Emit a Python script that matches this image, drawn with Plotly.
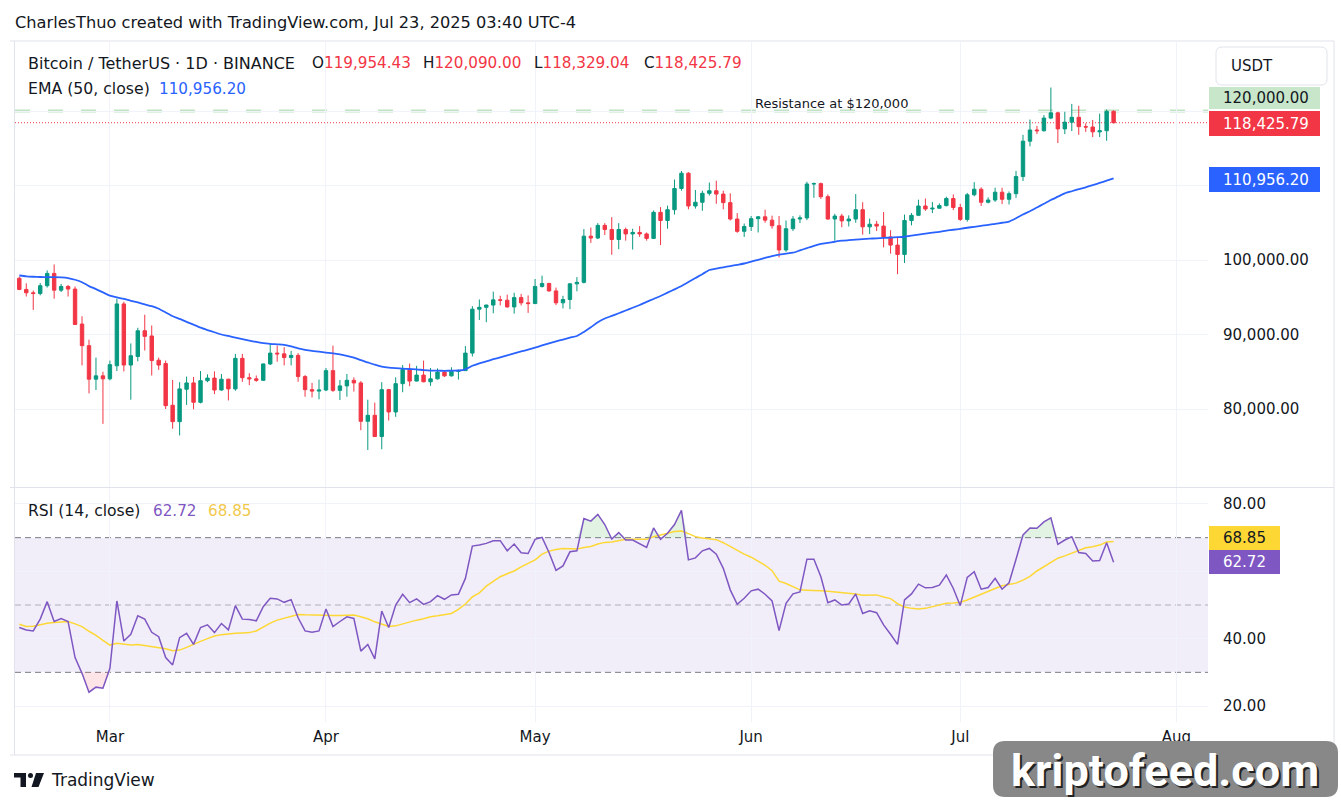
import plotly.graph_objects as go
import pandas as pd

W, H = 1341, 807
FONT = "DejaVu Sans"
TXT = "#131722"
GREEN = "#089981"
RED = "#F23645"

# ---------------- data ----------------
dates = pd.date_range("2025-02-16", periods=158, freq="D")

opens = [97550, 96050, 95600, 95500, 96550, 98200, 95950, 96450, 96100, 91400, 88500, 84000, 84450,
         84050, 85800, 94100, 85900, 87050, 90500, 89800, 86550, 86100, 80500, 78300, 82650, 83500, 80900,
         83800, 84150, 82550, 84000, 82700, 86800, 84200, 84050, 83850, 86050, 87500, 87400, 86900, 87200,
         84350, 82600, 82400,
         82550, 85150, 82500, 83100, 83850, 83500, 78350, 79150, 76300, 82600, 79600, 83400, 85300, 83750,
         84550, 83650, 84050, 84950, 84450, 85050, 85150, 87500, 93400, 93650, 93950, 94650, 94600, 93700,
         94950, 94250,
         94150, 96450, 96850, 95850, 94250, 94700, 96800, 97000, 103200, 102950, 104650, 104100, 102750,
         104100, 103500, 103700, 103500, 102900, 106400, 105300, 106750, 109600, 111650, 107250, 107750,
         108950, 109300, 108850, 107700, 105500, 103850,
         104500, 105550, 105800, 105350, 104600, 101350, 104200, 105500, 105650, 110200, 110250, 108500,
         105500, 105900, 105250, 105500, 106750, 104450, 104800, 104550, 103100, 102000, 100750, 105300,
         106000, 107250, 106850, 106950, 107300, 108250,
         107050, 105450, 108750, 109500, 107750, 108050, 109100, 108150, 108900, 111200, 115950, 117450,
         117350, 119050, 119750, 117600, 118500, 119150, 117900, 117850, 117200, 117350, 119954.43]
highs = [97750, 96870, 95900, 96900, 98600, 99400, 96800, 96650, 96450, 92450, 89300, 86900, 85000,
         86500, 94800, 94400, 88800, 90900, 92650, 91200, 86900, 86500, 83900, 83600, 84350, 84300, 85100,
         84650, 85050, 84700, 84050, 87400, 87400, 84800, 84500, 86100, 88750, 88500, 88300, 87800, 87500,
         84550, 83500, 83950,
         85500, 88500, 83900, 84700, 84250, 83750, 81250, 80850, 83600, 82700, 84250, 85900, 86100, 85800,
         86500, 85500, 85450, 85150, 85600, 85300, 88450, 93800, 94700, 94000, 95750, 95200, 95350, 95600,
         95450, 95250,
         97450, 97900, 96950, 96300, 95200, 96900, 97700, 104150, 104350, 104950, 104950, 105750, 104950,
         104350, 104200, 104550, 103700, 106650, 107100, 107300, 110800, 111950, 111800, 109400, 109300,
         110400, 110650, 109300, 108950, 106300, 104900,
         105900, 105900, 106750, 105950, 105900, 105300, 105900, 106000, 110500, 110400, 110400, 108800,
         106200, 106200, 106000, 108850, 107750, 105550, 105250, 106450, 104000, 103000, 106100, 106300,
         108100, 108250, 107800, 107600, 108500, 108800,
         107550, 109000, 110450, 109750, 108400, 109700, 109700, 109200, 111950, 116800, 118850, 118000,
         119450, 123150, 119900, 119900, 120950, 120700, 118350, 118800, 119650, 120200, 120090.00]
lows = [95950, 95100, 93300, 95250, 96300, 94800, 95700, 95100, 91300, 85850, 82100, 82550, 78000,
        83850, 85100, 85050, 81250, 86400, 87850, 84500, 85250, 80000, 77350, 76450, 80550, 79950, 80750,
        83600, 82000, 82450, 81150, 82450, 83650, 83200, 83650, 83800, 85900, 86350, 85850, 85850, 83650,
        81650, 81550, 81300,
        82400, 82300, 81200, 81650, 82350, 77150, 74500, 76250, 74600, 78450, 78950, 82250, 83050, 83700,
        83600, 83100, 83950, 84300, 84350, 83950, 85150, 87050, 91950, 91650, 92850, 93900, 93600, 92800,
        93900, 92900,
        94100, 96300, 95750, 93950, 93500, 93400, 95800, 96850, 102300, 102800, 103350, 100700, 101450,
        102600, 101400, 103100, 102600, 102850, 102000, 104200, 106100, 109300, 106800, 106900, 106600,
        108650, 107550, 106800, 105300, 103650, 103100,
        103900, 103700, 105000, 104200, 100350, 101100, 103900, 104950, 105350, 108350, 108200, 105400,
        102600, 104400, 104500, 105000, 103400, 103500, 103900, 101700, 100850, 98100, 99600, 104650,
        105950, 106600, 106300, 106900, 107200, 106700,
        105250, 105150, 108550, 107250, 107600, 107800, 107500, 107450, 108350, 110600, 115250, 116900,
        117250, 118900, 115700, 116900, 117300, 116800, 117200, 116500, 116500, 116000, 118329.04]
closes = [96050, 95600, 95500, 96550, 98200, 95950, 96450, 96100, 91350, 88500, 84000, 84450, 84050,
          85950, 94100, 85900, 87150, 90500, 89750, 86500, 85900, 80450, 78300, 82700, 83500, 80900, 83800,
          84150, 82550, 84000, 82700, 86800, 84200, 84050, 83850, 86050, 87500, 87400, 86900, 87200, 84350,
          82600, 82400, 82550,
          85150, 82500, 83100, 83850, 83500, 78350, 79150, 76300, 82600, 79600, 83400, 85300, 83750, 84550,
          83650, 84050, 84950, 84450, 85050, 85150, 87500, 93400, 93650, 93950, 94650, 94600, 93700, 94950,
          94250, 94150,
          96450, 96850, 95850, 94250, 94700, 96800, 97000, 103200, 102950, 104650, 104100, 102750, 104100,
          103500, 103700, 103500, 102900, 106400, 105300, 106750, 109600, 111650, 107250, 107750, 108950,
          109300, 108850, 107700, 105500, 103850, 104500,
          105550, 105800, 105350, 104600, 101350, 104200, 105500, 105650, 110200, 110250, 108500, 105500,
          105900, 105250, 105500, 106750, 104450, 104800, 104550, 103100, 102000, 100750, 105300, 106000,
          107250, 106850, 106950, 107300, 108250, 107050,
          105450, 108750, 109500, 107750, 108050, 109100, 108150, 108900, 111200, 115950, 117450, 117350,
          119050, 119750, 117600, 118500, 119150, 117900, 117850, 117200, 117350, 119954.43, 118425.79]

ema50 = [97920, 97800, 97750, 97720, 97700, 97690, 97660, 97580, 97350, 97020, 96500, 96100, 95650,
         95210, 94980, 94780, 94520, 94300, 94050, 93800, 93450, 92950, 92450, 92100, 91700, 91330, 90920,
         90600, 90300, 90000, 89800, 89590, 89380, 89180, 89000, 88850, 88750, 88680, 88600, 88400, 88150,
         87950, 87800, 87700, 87580, 87470, 87320, 87120, 86900, 86550, 86250, 85950, 85700, 85560, 85480,
         85420, 85370, 85330, 85220, 85150, 85140, 85130, 85140, 85170, 85330, 85800, 86130, 86400, 86680,
         86940, 87200, 87460, 87720, 87970, 88240, 88530, 88800, 89070, 89320, 89570, 89800, 90350, 90970,
         91650, 92150, 92500, 92850, 93220, 93590, 93960, 94370, 94770, 95170, 95620, 96060, 96510, 97050,
         97580, 98100, 98660, 98850, 99020, 99190, 99360, 99530, 99780, 100030, 100280, 100530, 100720,
         100850, 100980, 101290, 101600, 101900, 102150, 102300, 102450, 102590, 102660, 102730, 102800,
         102860, 102910, 102960, 103010, 103060, 103120, 103260, 103400, 103540, 103660, 103780, 103930,
         104060, 104190, 104330, 104460, 104590, 104710, 104860, 105000, 105160, 105600, 106100, 106550,
         107050, 107550, 108050, 108500, 108950, 109230, 109500, 109760, 110050, 110340, 110640, 110956.20]

rsi = [43.3, 42.6, 42.3, 45.8, 51.0, 45.1, 46.0, 45.1, 34.4, 29.7, 24.1, 25.6, 25.3, 31.2, 51.2, 39.3,
       41.3, 46.8, 45.8, 41.9, 40.6, 34.4, 32.2, 40.3, 41.6, 38.3, 43.3, 44.1, 41.8, 44.5, 42.6, 49.8,
       45.8, 45.7, 45.3, 49.5, 52.0, 51.8, 50.8, 51.6, 46.2, 42.3, 41.9, 42.3, 48.8, 43.6, 45.1, 46.5,
       46.0, 36.3, 38.3, 34.0, 48.2, 43.3, 50.0, 53.2, 50.7, 51.8, 50.2, 51.0, 52.8, 51.7, 53.0, 53.2,
       57.9, 67.5, 67.8, 68.3, 69.1, 69.1, 66.1, 68.1, 65.5, 65.3, 69.5, 70.1, 65.6, 60.3, 61.6, 65.8,
       66.1, 75.7, 74.9, 76.9, 73.9, 69.6, 71.5, 69.3, 69.3, 68.3, 67.1, 72.9, 69.5, 71.3, 73.9, 78.1,
       63.4, 64.0, 66.1, 66.8, 65.1, 60.9, 54.5, 50.2, 52.0, 54.2, 54.7, 53.2, 51.2, 42.4, 50.5, 53.3,
       53.9, 63.6, 63.6, 58.4, 50.7, 51.5, 50.0, 50.3, 53.3, 47.5, 48.3, 47.7, 44.1, 41.3, 38.3, 51.5,
       53.3, 56.2, 55.1, 55.2, 55.9, 58.9, 54.9, 49.8, 58.2, 59.9, 54.7, 55.2, 57.9, 54.7, 56.6, 63.6,
       70.8, 72.9, 72.8, 74.7, 75.9, 68.0, 69.3, 70.3, 65.6, 65.3, 63.1, 63.2, 68.5, 62.72]

rsi_ma = [44.3, 43.6, 43.7, 44.2, 44.6, 44.8, 45.0, 45.1, 44.4, 43.6, 42.2, 41.0, 39.5, 38.1, 38.6, 38.3,
          38.1, 38.3, 38.0, 37.6, 37.4, 37.0, 36.4, 36.6, 37.4, 38.4, 39.2, 40.0, 40.8, 41.2, 41.5, 41.6,
          41.7, 41.8, 42.3, 43.5, 44.6, 45.5, 46.0, 46.6, 47.2, 47.1, 47.0, 47.0, 47.0, 46.9, 46.9, 47.0,
          47.0, 46.5, 45.9, 45.0, 44.3, 43.6, 43.8, 44.4, 44.8, 45.5, 45.9, 46.5, 46.8, 47.1, 47.5, 48.7,
          50.3, 52.4, 53.6, 55.6, 57.1, 58.4, 59.3, 60.1, 61.3, 62.3, 63.4, 65.1, 66.0, 66.5, 66.8, 66.7,
          66.6, 67.1, 67.4, 68.1, 68.6, 68.7, 69.1, 69.5, 69.5, 69.5, 69.5, 70.3, 70.9, 71.3, 71.8, 72.0,
          71.2, 70.3, 69.9, 69.7, 69.4, 68.5, 67.3, 66.1, 65.1, 64.2, 63.1, 61.8, 60.2, 57.1, 56.4, 55.4,
          54.5, 54.4, 54.2, 54.2, 54.1, 53.9, 53.8, 53.5, 53.3, 52.9, 52.9, 53.0, 52.4, 51.9, 50.4, 49.4,
          49.0, 48.8, 49.0, 49.5, 49.9, 50.5, 50.6, 50.8, 51.5, 52.4, 53.2, 54.1, 54.9, 55.7, 56.1, 56.5,
          57.4, 58.5, 60.1, 61.4, 62.6, 63.9, 64.6, 65.4, 66.3, 67.0, 67.3, 67.8, 68.7, 68.85]

month_ticks = ["2025-03-01", "2025-04-01", "2025-05-01", "2025-06-01", "2025-07-01", "2025-08-01"]
month_labels = ["Mar", "Apr", "May", "Jun", "Jul", "Aug"]
price_ticks = [80000, 90000, 100000, 110000, 120000]
price_labels = ["80,000.00", "90,000.00", "100,000.00", "", ""]
rsi_ticks = [20, 40, 60, 80]
rsi_labels = ["20.00", "40.00", "", "80.00"]
resistance = 120000
last_close = closes[-1]
ob_level, mid_level, os_level = 70, 50, 30

# ---------------- helpers ----------------
def px(x):
    return x / W


def py(y):
    return 1 - y / H


def ann(x, y, text, size=15, color=TXT, xanchor="left", yanchor="middle", **kw):
    d = dict(xref="paper", yref="paper", x=px(x), y=py(y), text=text, showarrow=False,
             xanchor=xanchor, yanchor=yanchor, font=dict(family=FONT, size=size, color=color))
    d.update(kw)
    return d


def rect(x0, y0, x1, y1, fill, line=None, layer="above"):
    return dict(type="rect", xref="paper", yref="paper", x0=px(x0), x1=px(x1), y0=py(y1), y1=py(y0),
                fillcolor=fill, line=dict(width=0) if line is None else line, layer=layer)


def hline_px(x0, x1, y, color, width=1, dash="solid"):
    return dict(type="line", xref="paper", yref="paper", x0=px(x0), x1=px(x1), y0=py(y), y1=py(y),
                line=dict(color=color, width=width, dash=dash))


def rounded(x0, y0, x1, y1, r, fill, line_color=None, lw=1):
    X0, X1 = px(x0), px(x1)
    Y0, Y1 = py(y0), py(y1)
    rx, ry = r / W, r / H
    p = (f"M {X0+rx},{Y0} L {X1-rx},{Y0} Q {X1},{Y0} {X1},{Y0-ry} L {X1},{Y1+ry} Q {X1},{Y1} {X1-rx},{Y1} "
         f"L {X0+rx},{Y1} Q {X0},{Y1} {X0},{Y1+ry} L {X0},{Y0-ry} Q {X0},{Y0} {X0+rx},{Y0} Z")
    return dict(type="path", xref="paper", yref="paper", path=p, fillcolor=fill,
                line=dict(color=line_color or fill, width=lw if line_color else 0), layer="above")


# ---------------- figure ----------------
fig = go.Figure()

fig.add_trace(go.Candlestick(
    x=dates, open=opens, high=highs, low=lows, close=closes,
    increasing=dict(line=dict(color=GREEN, width=1), fillcolor=GREEN),
    decreasing=dict(line=dict(color=RED, width=1), fillcolor=RED),
    whiskerwidth=0, xaxis="x", yaxis="y", hoverinfo="skip"))

fig.add_trace(go.Scatter(x=dates, y=ema50, mode="lines",
                         line=dict(color="#2962FF", width=1.8, shape="spline", smoothing=0.6),
                         xaxis="x", yaxis="y", hoverinfo="skip"))

# RSI overbought / oversold fills
fig.add_trace(go.Scatter(x=dates, y=[ob_level] * len(dates), mode="lines", line=dict(width=0),
                         xaxis="x2", yaxis="y2", hoverinfo="skip"))
fig.add_trace(go.Scatter(x=dates, y=[max(v, ob_level) for v in rsi], mode="lines", line=dict(width=0),
                         fill="tonexty", fillcolor="rgba(76,175,80,0.16)", xaxis="x2", yaxis="y2",
                         hoverinfo="skip"))
fig.add_trace(go.Scatter(x=dates, y=[os_level] * len(dates), mode="lines", line=dict(width=0),
                         xaxis="x2", yaxis="y2", hoverinfo="skip"))
fig.add_trace(go.Scatter(x=dates, y=[min(v, os_level) for v in rsi], mode="lines", line=dict(width=0),
                         fill="tonexty", fillcolor="rgba(242,54,69,0.13)", xaxis="x2", yaxis="y2",
                         hoverinfo="skip"))

fig.add_trace(go.Scatter(x=dates, y=rsi_ma, mode="lines", line=dict(color="#FDD835", width=1.5),
                         xaxis="x2", yaxis="y2", hoverinfo="skip"))
fig.add_trace(go.Scatter(x=dates, y=rsi, mode="lines", line=dict(color="#7E57C2", width=1.5),
                         xaxis="x2", yaxis="y2", hoverinfo="skip"))

x_left = pd.Timestamp("2025-02-15 09:12")
x_right = pd.Timestamp("2025-08-05 13:00")
xdom = [15 / W, 1208 / W]
GRID = "#F0F3FA"

fig.update_layout(
    width=W, height=H, margin=dict(l=0, r=0, t=0, b=0),
    paper_bgcolor="white", plot_bgcolor="white", showlegend=False,
    font=dict(family=FONT, color=TXT),
    xaxis=dict(domain=xdom, anchor="y", type="date", range=[x_left, x_right], rangeslider=dict(visible=False),
               tickvals=month_ticks, showticklabels=False, showgrid=True, gridcolor=GRID, gridwidth=1,
               zeroline=False, showline=False, ticks=""),
    xaxis2=dict(domain=xdom, anchor="y2", type="date", matches="x", range=[x_left, x_right],
                tickvals=month_ticks, ticktext=month_labels, showgrid=True, gridcolor=GRID, gridwidth=1,
                tickfont=dict(family=FONT, size=15, color=TXT), ticks="", ticklabelstandoff=4,
                zeroline=False, showline=False),
    yaxis=dict(domain=[1 - 487 / H, 1 - 42 / H], anchor="x", side="right", range=[69530, 129262],
               tickvals=price_ticks, ticktext=price_labels, showgrid=True, gridcolor=GRID,
               tickfont=dict(family=FONT, size=15, color=TXT), ticks="", ticklabelstandoff=14,
               zeroline=False, showline=False),
    yaxis2=dict(domain=[1 - 722 / H, 1 - 488 / H], anchor="x2", side="right", range=[15.25, 84.75],
                tickvals=rsi_ticks, ticktext=rsi_labels, showgrid=True, gridcolor=GRID,
                tickfont=dict(family=FONT, size=15, color=TXT), ticks="", ticklabelstandoff=14,
                zeroline=False, showline=False),
)

shapes = []
# RSI band and levels
shapes.append(dict(type="rect", xref="x2 domain", yref="y2", x0=0, x1=1, y0=os_level, y1=ob_level,
                   fillcolor="rgba(126,87,194,0.10)", line=dict(width=0), layer="below"))
for lvl, col in [(ob_level, "#787B86"), (mid_level, "rgba(120,123,134,0.55)"), (os_level, "#787B86")]:
    shapes.append(dict(type="line", xref="x2 domain", yref="y2", x0=0, x1=1, y0=lvl, y1=lvl,
                       line=dict(color=col, width=1, dash="6px,4px"), layer="below"))
# resistance and last price lines
shapes.append(dict(type="line", xref="x domain", yref="y", x0=0, x1=1, y0=resistance, y1=resistance,
                   line=dict(color="rgba(129,199,132,0.5)", width=3, dash="15px,18px"), layer="below"))
shapes.append(dict(type="line", xref="x domain", yref="y", x0=0, x1=1, y0=last_close, y1=last_close,
                   line=dict(color=RED, width=1, dash="1px,2px"), layer="below"))
# frame and pane separator
BORDER = "#E0E3EB"
shapes.append(hline_px(10, 1334, 41, BORDER))
shapes.append(hline_px(10, 1334, 487.5, BORDER))
shapes.append(hline_px(10, 1334, 755, BORDER))
shapes.append(dict(type="line", xref="paper", yref="paper", x0=px(14.5), x1=px(14.5), y0=py(41), y1=py(755),
                   line=dict(color=BORDER, width=1)))
shapes.append(dict(type="line", xref="paper", yref="paper", x0=px(1334), x1=px(1334), y0=py(41), y1=py(755),
                   line=dict(color=BORDER, width=1)))

# price badges
shapes.append(rect(1209, 87, 1320, 109, "#C8E6C9"))
shapes.append(rect(1209, 111, 1320, 136, RED))
shapes.append(rect(1209, 167, 1320, 192, "#2962FF"))
shapes.append(rect(1209, 526, 1280, 550, "#FDD835"))
shapes.append(rect(1209, 550, 1280, 574, "#7E57C2"))
# USDT button
shapes.append(rounded(1216, 47, 1327, 85, 6, "white", BORDER, 1))
# watermark box
shapes.append(rounded(993, 741, 1338, 797, 12, "#888888"))
# TradingView logo
shapes.append(rect(14, 773, 26, 777.5, TXT))
shapes.append(rect(20.5, 773, 26, 787, TXT))
shapes.append(dict(type="circle", xref="paper", yref="paper", x0=px(28), x1=px(33), y0=py(778), y1=py(773),
                   fillcolor=TXT, line=dict(width=0)))
shapes.append(dict(type="path", xref="paper", yref="paper",
                   path=f"M {px(36)},{py(773)} L {px(44)},{py(773)} L {px(38.5)},{py(787)} L {px(31.5)},{py(787)} Z",
                   fillcolor=TXT, line=dict(width=0)))
fig.update_layout(shapes=shapes)

R = RED
anns = [
    ann(13, 22, "CharlesThuo created with TradingView.com, Jul 23, 2025 03:40 UTC-4", 16.2),
    ann(26, 63, "Bitcoin / TetherUS · 1D · BINANCE", 16),
    ann(310, 63, f"O<span style='color:{R}'>{opens[-1]:,.2f}</span>", 15.2),
    ann(421, 63, f"H<span style='color:{R}'>{highs[-1]:,.2f}</span>", 15.2),
    ann(532, 63, f"L<span style='color:{R}'>{lows[-1]:,.2f}</span>", 15.2),
    ann(642, 63, f"C<span style='color:{R}'>{closes[-1]:,.2f}</span>", 15.2),
    ann(26, 89, "EMA (50, close)", 15.7),
    ann(157, 89, f"{ema50[-1]:,.2f}", 15.2, "#2962FF"),
    ann(831, 103, "Resistance at $120,000", 13, "#131722", xanchor="center"),
    ann(26, 511, "RSI (14, close)", 15.6),
    ann(151, 511, f"{rsi[-1]:.2f}", 15.2, "#7E57C2"),
    ann(206, 511, f"{rsi_ma[-1]:.2f}", 15.2, "#F2C94C"),
    ann(1221, 98, f"{resistance:,.2f}", 15, "#131722"),
    ann(1221, 123.5, f"{last_close:,.2f}", 15, "white"),
    ann(1221, 180, f"{ema50[-1]:,.2f}", 15, "white"),
    ann(1221, 538, f"{rsi_ma[-1]:.2f}", 15, "#131722"),
    ann(1221, 562, f"{rsi[-1]:.2f}", 15, "white"),
    ann(1229, 66, "USDT", 15),
    ann(49, 780, "TradingView", 17, TXT),
    dict(xref="paper", yref="paper", x=px(1165), y=py(770), text="<b>kriptofeed.com</b>", showarrow=False,
         xanchor="center", yanchor="middle",
         font=dict(family="Roboto", size=45, color="white", weight=900, shadow="2px 2px 0px #222222")),
]
fig.update_layout(annotations=anns)

fig.write_html("out.html")
